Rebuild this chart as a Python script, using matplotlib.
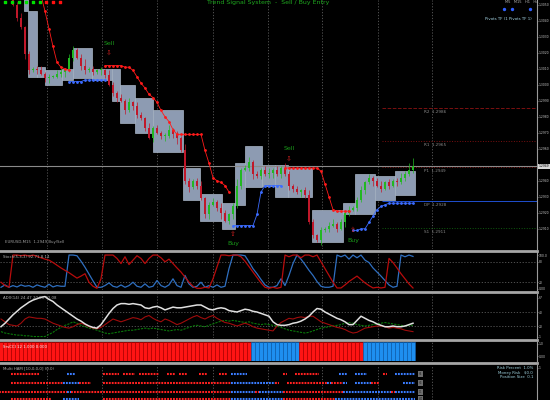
import matplotlib
matplotlib.use("Agg")
import matplotlib.pyplot as plt
import matplotlib.ticker as ticker
from matplotlib.patches import Rectangle
from matplotlib.lines import Line2D
import numpy as np

W, H = 550, 400
AXIS_X = 537          # right price-scale border, px
BASE_PRICE = 1.2900
POINT = 0.0001

# ---- price bars, in points above BASE_PRICE ----
first_open = 190
closes = [
    185, 172, 160,
    150, 142, 136, 119, 109, 110, 109, 107, 104, 105,
    105, 107, 108, 109, 117, 122, 117, 112, 109, 110,
    108, 109, 109, 106, 100, 95, 92, 90, 84, 89,
    87, 81, 79, 73, 67, 73, 70, 68, 68, 72,
    69, 67, 59, 40, 36, 40, 37, 29, 19, 25,
    27, 23, 20, 15, 19, 24, 37, 47, 48, 52,
    44, 43, 47, 44, 45, 47, 44, 48, 44,
    37, 35, 33, 34, 31, 14, 6, 3, 9, 10,
    12, 13, 10, 14, 20, 22, 23, 28, 34, 39,
    42, 40, 37, 35, 39, 37, 40, 39, 42, 44,
    47, 49]
wick_hi = [2, 3, 1, 4, 2, 3, 1, 2, 1, 2, 3, 1, 2, 1, 2, 3, 1, 2, 2, 1,
           2, 4, 1, 2, 1, 2, 1, 3, 2, 1, 2, 1, 3, 1, 2, 2, 1, 3, 1, 2,
           1, 2, 3, 1, 2, 1, 4, 2, 1, 2, 3, 1, 2, 2, 1, 3, 2, 1, 2, 4,
           1, 2, 3, 1, 2, 1, 2, 3, 1, 2, 1, 3, 2, 1, 2, 1, 2, 3, 2, 1,
           2, 1, 2, 3, 1, 2, 1, 2, 1, 2, 3, 1, 2, 1, 2, 3, 1, 2, 1, 2,
           3, 2, 4, 5]
wick_lo = [1, 2, 3, 1, 2, 1, 3, 2, 1, 2, 1, 2, 3, 1, 1, 2, 3, 1, 2, 1,
           3, 2, 1, 2, 1, 3, 2, 1, 2, 3, 1, 2, 1, 3, 2, 1, 2, 1, 3, 1,
           2, 3, 1, 2, 4, 1, 2, 3, 1, 2, 1, 2, 3, 1, 2, 4, 1, 2, 3, 1,
           2, 1, 2, 3, 1, 2, 1, 2, 3, 1, 2, 1, 3, 2, 1, 3, 2, 1, 2, 1,
           3, 1, 2, 1, 2, 1, 3, 2, 1, 2, 1, 2, 1, 3, 1, 2, 1, 2, 1, 2,
           1, 2, 1, 2]

# ---- range boxes: start bar, end bar, top, bottom (points) ----
box_start = [5.75, 6.75, 9, 11, 15.25, 18, 22.75, 27.75, 29.75, 33.5, 38, 45.5, 49.75,
             55.25, 58.5, 61, 65.25, 68.5, 71.75, 77.75, 85.5, 88.5, 93.5, 98.5]
box_end = [6.75, 9, 11, 15.25, 18, 22.75, 27.75, 29.75, 33.5, 38, 45.5, 49.75, 55.25,
           58.5, 61, 65.25, 68.5, 71.75, 77.75, 85.5, 88.5, 93.5, 98.5, 103.5]
box_top = [158, 146, 111, 109, 110, 123, 110, 110, 100, 92, 84, 48, 32,
           26, 51, 62, 50, 50, 48, 22, 26, 44, 43, 46]
box_bot = [146, 105, 105, 100, 103, 104, 103, 90, 76, 70, 58, 28, 15,
           10, 25, 36, 37, 30, 30, 2, 19, 19, 28, 31]

# ---- trailing stops (start bar, values) ----
sell_stops = [
    (10, [156, 146, 135, 124, 114, 111, 110, 109]),
    (26, [112, 112, 112, 112, 112, 111, 111, 109, 105, 101, 98, 94, 92, 89, 84,
          80, 77, 72, 69, 69, 69, 69, 69, 69, 69, 59, 51, 42, 40, 39, 37, 33]),
    (71, [48, 48, 48, 48, 48, 48, 48, 48, 48, 46, 38, 30, 22, 21, 21, 21, 21]),
]
buy_stops = [
    (17, [102, 102, 102, 102, 103, 103, 103, 103, 103, 103]),
    (58, [12, 12, 12, 12, 12, 12, 19, 33, 37, 37, 37, 37, 37]),
    (88, [9, 9, 10, 10, 14, 18, 22, 24, 25, 26, 26, 26, 26, 26, 26, 26]),
]
sell_bars = [27, 72]
sell_levels = [120, 54]
buy_bars = [58, 88]
buy_levels = [7, 9]

# ---- pivots ----
pivot_names = ["R2", "R1", "P1", "DP", "S1"]
pivot_levels = [85.5, 65, 48.5, 27.5, 10.5]
pivot_colors = ["#7a1010", "#7a1010", "#7a1010", "#1f4fd0", "#0f5a0f"]
pivot_styles = ["--", ":", ":", "-", ":"]
pivot_from = 95.25

signal_colors = ["#00e000"] * 6 + ["#ff1010"] * 3
vgrid = [11.5, 25.25, 39, 53, 66.75, 80.25, 94.25, 107.75]

# ---- stochastic ----
stoch_blue = [5, 12, 5, 10, 6, 12, 8, 10, 5, 12, 8, 5, 14, 6, 10, 8, 8,
              100, 100, 98, 82, 64, 44, 24, 5,
              5, 10, 18, 8, 5, 12, 5, 10, 20, 8, 5, 15, 5, 8, 25, 10, 5, 12, 30, 10,
              5, 40, 15, 5, 8, 20, 5, 10, 5, 12, 5, 8,
              60, 100, 100, 100, 98, 80, 60, 45, 28, 12, 5, 5, 10, 30, 10, 40, 75, 100,
              88, 72, 55, 40, 22, 8, 5, 5, 8, 100, 95, 100, 88, 100, 92, 100, 85, 78,
              62, 50, 38, 25, 12, 5, 8, 100, 95, 100, 96]
stoch_red = [20, 10, 5,
             100, 100, 98, 100, 97, 100, 96,
             92, 88, 85, 78, 70, 62, 55, 48, 40, 32, 38, 45, 20, 8, 2,
             30, 100, 100, 100, 90, 75, 95, 72, 85, 98, 90, 75, 90, 100,
             100, 92, 80, 88, 75, 62, 50, 35, 20, 8, 2, 2, 5, 3, 30, 65, 100,
             100, 98, 100, 100, 95,
             82, 66, 50, 34, 18, 5,
             2, 5, 2, 5,
             100,
             95, 100, 100, 92, 100, 100, 95, 100,
             80, 60, 40, 20, 3,
             3, 12, 22, 30, 38, 28, 18, 10, 3, 5, 3, 5,
             90, 78, 62, 45, 30, 15, 3]

# ---- ADX ----
adx_main = [19, 24, 30, 36, 41, 46, 50, 54, 57, 59, 61, 62, 58, 55, 50, 46, 42, 38, 34, 30,
            27, 23, 20, 18, 17, 22, 30, 38, 45, 50, 52, 52, 51, 52, 51, 50, 46, 45, 47, 48,
            46, 43, 45, 47, 46, 46, 47, 48, 49, 50, 50, 47, 44, 43, 45, 46, 45, 42, 41, 40,
            42, 44, 43, 41, 40, 38, 36, 34, 26, 22, 21, 21, 22, 24, 25, 27, 30, 34, 40, 45,
            44, 40, 37, 34, 31, 29, 26, 22, 22, 28, 34, 31, 28, 26, 23, 21, 19, 19, 20, 19,
            19, 20, 22, 24]
adx_minus = [30, 26, 22, 21, 20, 24, 30, 33, 32, 31, 31, 30, 27, 24, 22, 20, 18, 17, 19, 22,
             24, 22, 19, 17, 16, 18, 22, 26, 30, 28, 26, 28, 30, 32, 31, 29, 33, 35, 31, 28,
             26, 30, 28, 25, 22, 24, 27, 30, 33, 35, 32, 30, 33, 35, 31, 28, 25, 24, 22, 20,
             22, 24, 22, 19, 17, 16, 15, 14, 13, 20, 25, 28, 31, 30, 32, 33, 32, 34, 34, 30,
             26, 24, 22, 20, 18, 17, 15, 12, 10, 11, 14, 17, 18, 19, 20, 20, 19, 17, 18, 17,
             16, 14, 13, 12]
adx_plus = [12, 10, 9, 8, 7, 7, 6, 6, 5, 5, 5, 5, 8, 11, 15, 18, 21, 23, 26, 24,
            21, 19, 17, 16, 14, 12, 10, 9, 10, 11, 12, 13, 14, 14, 15, 16, 17, 16, 17, 16,
            15, 14, 13, 14, 15, 14, 16, 18, 20, 21, 20, 19, 21, 23, 25, 27, 28, 27, 28, 27,
            26, 25, 26, 24, 23, 22, 23, 22, 21, 20, 18, 16, 14, 13, 12, 11, 10, 11, 13, 15,
            17, 18, 19, 20, 21, 22, 24, 25, 24, 22, 21, 20, 21, 22, 23, 24, 25, 24, 23, 22,
            21, 20, 21, 21]

# ---- trend histogram: colour runs ----
trend_runs = [("r", 63), ("b", 12), ("r", 16), ("b", 13)]

# ---- multi-timeframe rows ----
mtf_rows = [
    [(".", 3), ("r", 7), (".", 7), ("b", 2), (".", 7), ("r", 4), (".", 1), ("r", 3), (".", 1),
     ("r", 5), (".", 2), ("r", 2), (".", 1), ("r", 2), (".", 3), ("r", 2), (".", 3), ("r", 2),
     (".", 1), ("b", 4), (".", 9), ("r", 1), (".", 2), ("r", 6), (".", 5), ("b", 2), (".", 2),
     ("b", 3), (".", 4), ("r", 1), (".", 2), ("b", 5)],
    [(".", 3), ("r", 13), ("b", 4), ("r", 3), (".", 3), ("r", 32), ("b", 11), ("r", 1), (".", 2),
     ("r", 10), ("b", 1), ("r", 3), ("b", 1), (".", 2), ("b", 4), ("r", 2), (".", 6), ("b", 3)],
    [("r", 17), ("b", 1), ("r", 40), ("b", 6), ("r", 1), ("b", 6), ("r", 15), ("b", 12),
     ("r", 1), ("b", 5)],
    [(".", 3), ("r", 10), (".", 3), ("b", 4), (".", 6), ("r", 32), ("b", 13), ("r", 13), ("b", 20)],
]
mtf_labels = ["H1", "H4", "D1", "W1"]

LABEL_COLOR = "#c8c8c8"
GRID_COLOR = "#5c5c5c"


def _px_axes(fig, top, bottom):
    return fig.add_axes([0, 1 - bottom / H, AXIS_X / W, (bottom - top) / H])


def _style(ax):
    ax.set_facecolor("black")
    ax.set_xlim(-0.25, (AXIS_X - 1) / 4)
    ax.set_xticks([])
    for s in ax.spines.values():
        s.set_visible(False)
    ax.spines["right"].set_visible(True)
    ax.spines["right"].set_color("#9a9a9a")
    ax.spines["right"].set_linewidth(0.8)
    ax.yaxis.tick_right()
    ax.tick_params(axis="y", colors="#9a9a9a", labelcolor=LABEL_COLOR,
                   labelsize=2.2, length=1.0, width=0.5, pad=0.5)
    for g in vgrid:
        ax.axvline(g, color=GRID_COLOR, ls=(0, (1.5, 2)), lw=0.6, zorder=0)


def _plot_main(ax):
    x = np.arange(len(closes))
    c = np.array(closes, dtype=float)
    o = np.concatenate([[first_open], c[:-1]])
    hi = np.maximum(o, c) + np.array(wick_hi)
    lo = np.minimum(o, c) - np.array(wick_lo)
    up = c >= o
    colors = np.where(up, "#22b822", "#c0182a")

    for x0, x1, t, b in zip(box_start, box_end, box_top, box_bot):
        ax.add_patch(Rectangle((x0, b), x1 - x0, t - b, facecolor="#8d9bb2",
                               edgecolor="#a9b5c6", lw=0.5, zorder=1))

    ax.vlines(x, lo, hi, colors=colors, lw=0.5, zorder=2)
    body = np.maximum(np.abs(c - o), 0.8)
    ax.bar(x, body, bottom=np.minimum(o, c), width=0.45, color=colors, lw=0, zorder=2)

    for start, vals in sell_stops:
        xs = np.arange(start, start + len(vals))
        ax.plot(xs, vals, color="#ff1a1a", lw=0.6, marker="o", ms=1.0, zorder=4)
    for start, vals in buy_stops:
        xs = np.arange(start, start + len(vals))
        ax.plot(xs, vals, color="#3c6cff", lw=0.6, marker="o", ms=1.0, zorder=4)

    for b, lvl in zip(sell_bars, sell_levels):
        ax.text(b, lvl, "\u21e9", color="#d02020", fontsize=5, ha="center", va="center", zorder=5)
        ax.annotate("Sell", (b, lvl), xytext=(0, 7), textcoords="offset points",
                    color="#1a9a1a", fontsize=4.5, ha="center", va="center", zorder=5)
    for b, lvl in zip(buy_bars, buy_levels):
        ax.text(b, lvl, "\u21e7", color="#d02020", fontsize=5, ha="center", va="center", zorder=5)
        ax.annotate("Buy", (b, lvl), xytext=(0, -7), textcoords="offset points",
                    color="#1a9a1a", fontsize=4.5, ha="center", va="center", zorder=5)

    for name, lvl, col, ls in zip(pivot_names, pivot_levels, pivot_colors, pivot_styles):
        ax.hlines(lvl, pivot_from, 200, colors=col, linestyles=ls, lw=0.7, zorder=1)
        ax.annotate("%s  %.4f" % (name, BASE_PRICE + lvl * POINT), (108.5, lvl),
                    xytext=(0, -3), textcoords="offset points", color="#8a8a8a",
                    fontsize=3, ha="center", va="center")

    bid = closes[-1]
    ax.axhline(bid, color="#8a8a8a", lw=0.8, zorder=1)
    ax.text(1.004, bid, "%.4f" % (BASE_PRICE + bid * POINT), transform=ax.get_yaxis_transform(),
            fontsize=2.2, color="black", va="center", ha="left",
            bbox=dict(boxstyle="square,pad=0.25", fc="#d8d8d8", ec="none"), zorder=6, clip_on=False)

    ax.set_ylim(153 - 249 * 0.625, 153)
    ax.set_yticks([v for v in range(10, 151, 10) if v != 50])
    ax.yaxis.set_major_formatter(ticker.FuncFormatter(
        lambda v, pos: "%.4f" % (BASE_PRICE + v * POINT)))

    # signal dots, top-left
    for k, col in enumerate(signal_colors):
        ax.scatter((5 + 6.9 * k) / AXIS_X, 1 - 1.5 / 249, s=3, marker="s", color=col,
                   transform=ax.transAxes, clip_on=False, zorder=6)
    ax.text(207 / AXIS_X, 0.999, "Trend Signal System  -  Sell / Buy Entry", color="#1fa81f",
            fontsize=4.5, transform=ax.transAxes, va="top", ha="left")
    ax.text(505 / AXIS_X, 0.999, "M5   M15   H1   H4", color="#b0b0b0", fontsize=2.6,
            transform=ax.transAxes, va="top", ha="left")
    for px in [504, 512, 530]:
        ax.scatter(px / AXIS_X, 1 - 9 / 249, s=2, color="#2f5fff", transform=ax.transAxes)
    ax.text(532 / AXIS_X, 1 - 19 / 249, "Pivots TF (1 Pivots TF 1)", color="#a8d8e8",
            fontsize=2.8, transform=ax.transAxes, va="center", ha="right")
    ax.text(5 / AXIS_X, 1 - 242 / 249, "EURUSD,M15  1.2949 Buy/Sell", color="#a0a0a0",
            fontsize=2.8, transform=ax.transAxes, va="center", ha="left")


def _plot_stoch(ax):
    x = np.arange(len(stoch_blue))
    ax.axhline(80, color=GRID_COLOR, ls=(0, (1.5, 2)), lw=0.6, zorder=0)
    ax.axhline(20, color=GRID_COLOR, ls=(0, (1.5, 2)), lw=0.6, zorder=0)
    ax.plot(x, stoch_blue, color="#2f6fc0", lw=0.9)
    ax.plot(x, stoch_red, color="#b80c0c", lw=0.9)
    ax.set_ylim(-3, 109)
    ax.set_yticks([100, 80, 20, 0])
    ax.set_yticklabels(["100.0", "80", "20", "0.00"])
    ax.text(0.005, 0.93, "Stoch(5,3,3) 92.71 8.14", transform=ax.transAxes,
            color="#b0b0b0", fontsize=2.8, va="top")


def _plot_adx(ax):
    x = np.arange(len(adx_main))
    ax.axhline(40, color=GRID_COLOR, ls=(0, (1.5, 2)), lw=0.6, zorder=0)
    ax.axhline(20, color=GRID_COLOR, ls=(0, (1.5, 2)), lw=0.6, zorder=0)
    ax.plot(x, adx_plus, color="#0a7a0a", lw=0.8, ls=(0, (2, 1)))
    ax.plot(x, adx_minus, color="#a00c0c", lw=0.8)
    ax.plot(x, adx_main, color="#e0e0e0", lw=1.1)
    ax.set_ylim(2.9, 65.7)
    ax.set_yticks([60, 40, 20, 5])
    ax.set_yticklabels(["67", "40", "20", "1"])
    ax.text(0.005, 0.95, "ADX(14) 24.47 20.55 12.08", transform=ax.transAxes,
            color="#b0b0b0", fontsize=2.8, va="top")


def _plot_trend(ax):
    states = "".join(s * n for s, n in trend_runs)
    x = np.arange(len(states))
    face = ["#ff1414" if s == "r" else "#1e8ff0" for s in states]
    edge = ["#b00000" if s == "r" else "#1060b0" for s in states]
    ax.bar(x, 1, width=1.0, bottom=0, color=face, edgecolor=edge, lw=0.4)
    ax.set_ylim(0, 1)
    ax.set_yticks([0.9, 0.25])
    ax.set_yticklabels(["1.0", "0.00"])
    ax.text(0.005, 0.85, "SrsCCI 12 1.000 0.000", transform=ax.transAxes,
            color="#f0f0f0", fontsize=2.8, va="top")


def _plot_mtf(ax):
    row_y = [0, 1, 2, 2.8]
    for runs, y, lab in zip(mtf_rows, row_y, mtf_labels):
        states = "".join(s * n for s, n in runs)
        i = 0
        while i < len(states):
            j = i
            while j < len(states) and states[j] == states[i]:
                j += 1
            if states[i] != ".":
                col = "#ff2020" if states[i] == "r" else "#3a7cff"
                ax.hlines(y, i - 0.5, j - 0.5, colors=col, lw=1.5, linestyles=(0, (0.9, 0.5)))
            i = j
        ax.text(104.9, y, lab, color="#202020", fontsize=1.8, ha="center", va="center",
                bbox=dict(boxstyle="square,pad=0.3", fc="#6e6e6e", ec="none"))
    ax.set_ylim(2.89, -1)
    ax.set_yticks([-0.7])
    ax.set_yticklabels(["1"])
    ax.text(0.005, 0.96, "Multi HAM [10,0,0,0] (0.0)", transform=ax.transAxes,
            color="#b0b0b0", fontsize=2.8, va="top")
    ax.text(532 / 4, -0.85, "Risk Percent  1.0%\nMoney Risk   $0.0\nPosition Size  0.1",
            color="#9fd3e0", fontsize=2.8, ha="right", va="top", linespacing=1.1)


fig = plt.figure(figsize=(W / 100, H / 100), dpi=100, facecolor="black")
ax_main = _px_axes(fig, 0, 249)
ax_sto = _px_axes(fig, 252, 290)
ax_adx = _px_axes(fig, 294, 338)
ax_trd = _px_axes(fig, 342, 361)
ax_mtf = _px_axes(fig, 365, 400)
for a in (ax_main, ax_sto, ax_adx, ax_trd, ax_mtf):
    _style(a)

_plot_main(ax_main)
_plot_stoch(ax_sto)
_plot_adx(ax_adx)
_plot_trend(ax_trd)
_plot_mtf(ax_mtf)

for y in (250.5, 292, 340, 363):
    fig.add_artist(Line2D([0, AXIS_X / W], [1 - y / H, 1 - y / H], transform=fig.transFigure,
                          color="#a6a6a6", lw=2.0))

fig.savefig("out.png", dpi=100, facecolor="black")
